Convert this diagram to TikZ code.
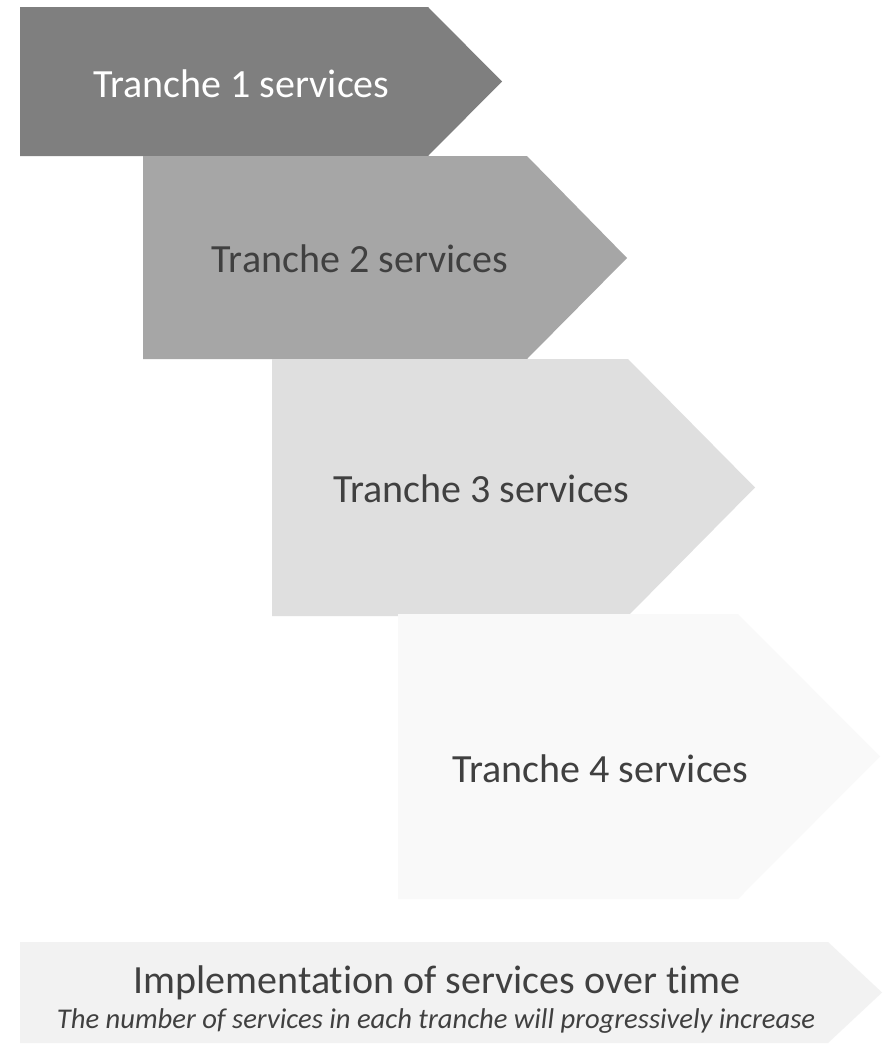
\documentclass[tikz,border=0pt]{standalone}
\usepackage{fontspec}
\setmainfont[Ligatures=NoCommon]{Carlito}
\usepackage{xcolor}
\usepackage{tikz}
\usetikzlibrary{positioning,calc}
\definecolor{TrancheOne}{HTML}{7F7F7F}
\definecolor{TrancheTwo}{HTML}{A6A6A6}
\definecolor{TrancheThree}{HTML}{DFDFDF}
\definecolor{TrancheFour}{HTML}{F9F9F9}
\definecolor{TimeBand}{HTML}{F2F2F2}
\definecolor{TrancheInk}{HTML}{404040}

\begin{document}
\begin{tikzpicture}[x=1pt,y=-1pt,
    tranchetext/.style={anchor=base,inner sep=0pt,font=\fontsize{40}{48}\selectfont,text=TrancheInk},
    notetext/.style={anchor=base,inner sep=0pt,font=\fontsize{28.6}{34}\selectfont\itshape,text=TrancheInk}]
  \useasboundingbox[fill=white] (0,0) rectangle (888,1044);
  % tranche arrows, left to right
  \fill[TrancheOne] (20,7) -- (428,7) -- (502,81.5) -- (428,156) -- (20,156) -- cycle;
  \fill[TrancheTwo] (143,156) -- (527,156) -- (627,258) -- (527,359) -- (143,359) -- cycle;
  \fill[TrancheThree] (272,359) -- (628,359) -- (755,487.5) -- (628,616) -- (272,616) -- cycle;
  \fill[TrancheFour] (398,614) -- (738,614) -- (880,756.5) -- (738,899) -- (398,899) -- cycle;
  \fill[TimeBand] (20,942) -- (828,942) -- (882,992.5) -- (828,1043) -- (20,1043) -- cycle;
  \node[tranchetext,text=white] (one) at (241.5,97) {Tranche 1 services};
  \node[tranchetext] (two) at (360,272) {Tranche 2 services};
  \node[tranchetext] (three) at (481.5,502) {Tranche 3 services};
  \node[tranchetext] (four) at (600.5,782) {Tranche 4 services};
  \node[tranchetext] (time) at (437,993) {Implementation of services over time};
  \node[notetext] (note) at (436,1028) {The number of services in each tranche will progressively increase};
\end{tikzpicture}
\end{document}
